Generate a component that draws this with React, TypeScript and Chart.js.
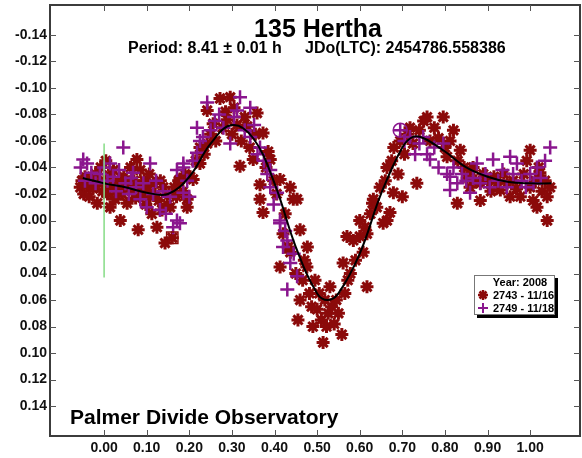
import React, { useEffect, useRef } from "react";
import { Chart, registerables } from "chart.js";

Chart.register(...registerables);

// ---- Data (phase, magnitude) ----
const redPhase = [
  -0.056, -0.052, -0.048, -0.045, -0.04, -0.035, -0.03, -0.026, -0.02, -0.016, -0.012, -0.008, -0.004, 0.0, 0.004, 0.008,
  0.012, 0.014, 0.018, 0.022, 0.026, 0.03, 0.034, 0.038, 0.042, 0.046, 0.05, 0.054, 0.058, 0.062, 0.066, 0.07, 0.074,
  0.077, 0.08, 0.083, 0.085, 0.09, 0.094, 0.098, 0.102, 0.106, 0.108, 0.112, 0.116, 0.12, 0.124, 0.128, 0.132, 0.136,
  0.139, 0.143, 0.148, 0.152, 0.155, 0.16, 0.165, 0.17, 0.175, 0.178, 0.185, 0.19, 0.195, 0.195, 0.202, 0.209, 0.215,
  0.225, 0.225, 0.235, 0.242, 0.242, 0.25, 0.256, 0.262, 0.272, 0.278, 0.285, 0.289, 0.296, 0.3, 0.305, 0.312, 0.319,
  0.322, 0.33, 0.336, 0.342, 0.35, 0.355, 0.359, 0.366, 0.366, 0.373, 0.373, 0.38, 0.385, 0.39, 0.398, 0.405, 0.413,
  0.413, 0.42, 0.425, 0.432, 0.437, 0.437, 0.444, 0.45, 0.453, 0.455, 0.46, 0.46, 0.466, 0.47, 0.476, 0.477, 0.482,
  0.487, 0.49, 0.495, 0.5, 0.505, 0.51, 0.514, 0.518, 0.522, 0.526, 0.53, 0.534, 0.54, 0.545, 0.55, 0.558, 0.561, 0.565,
  0.57, 0.572, 0.578, 0.585, 0.59, 0.6, 0.6, 0.608, 0.612, 0.617, 0.617, 0.625, 0.63, 0.632, 0.64, 0.648, 0.655, 0.66,
  0.664, 0.664, 0.671, 0.675, 0.679, 0.68, 0.69, 0.695, 0.7, 0.705, 0.712, 0.718, 0.725, 0.734, 0.74, 0.75, 0.758,
  0.765, 0.775, 0.785, 0.796, 0.8, 0.805, 0.812, 0.82, 0.829, 0.83, 0.836, 0.845, 0.852, 0.859, 0.859, 0.866, 0.872,
  0.883, 0.883, 0.89, 0.9, 0.908, 0.915, 0.922, 0.93, 0.938, 0.946, 0.953, 0.96, 0.968, 0.977, 0.985, 0.992, 1.0, 1.0,
  1.007, 1.012, 1.016, 1.02, 1.023, 1.028, 1.035, 1.04, 1.04, 1.047,
];
const redMag = [
  -0.025, -0.03, -0.02, -0.033, -0.026, -0.018, -0.031, -0.024, -0.035, -0.013, -0.028, -0.04, -0.022, -0.03, -0.045,
  -0.02, -0.034, -0.01, -0.026, -0.038, -0.016, -0.023, -0.03, 0.0, -0.02, -0.033, -0.026, -0.013, -0.028, -0.04,
  -0.022, -0.03, -0.017, -0.046, 0.007, -0.025, -0.038, -0.02, -0.03, -0.012, -0.025, -0.035, -0.018, -0.005, -0.028,
  -0.02, 0.005, -0.015, -0.03, -0.008, -0.025, 0.017, -0.012, -0.02, -0.01, 0.013, -0.025, -0.018, -0.03, -0.031,
  -0.022, -0.035, -0.016, -0.01, -0.033, -0.031, -0.045, -0.043, -0.055, -0.05, -0.058, -0.083, -0.065, -0.073, -0.06,
  -0.092, -0.07, -0.082, -0.076, -0.093, -0.065, -0.085, -0.072, -0.041, -0.06, -0.078, -0.071, -0.055, -0.046, -0.065,
  -0.081, -0.016, -0.027, -0.066, -0.006, -0.04, -0.052, -0.046, -0.03, -0.02, -0.031, 0.035, 0.01, -0.005, 0.02,
  -0.025, 0.024, -0.016, 0.04, -0.016, 0.075, 0.007, 0.06, 0.045, 0.03, 0.035, 0.02, 0.055, 0.065, 0.08, 0.045, 0.067,
  0.055, 0.075, 0.092, 0.06, 0.08, 0.07, 0.05, 0.065, 0.078, 0.06, 0.07, 0.086, 0.032, 0.055, 0.012, 0.045, 0.04,
  0.015, 0.03, 0.012, 0.0, 0.024, 0.005, 0.05, 0.01, -0.005, -0.013, -0.016, -0.01, -0.025, 0.002, -0.03, 0.0, -0.04,
  -0.006, -0.045, -0.021, -0.055, -0.035, -0.06, -0.018, -0.05, -0.065, -0.07, -0.058, -0.028, -0.068, -0.075, -0.078,
  -0.06, -0.07, -0.062, -0.078, -0.055, -0.048, -0.06, -0.068, -0.013, -0.045, -0.053, -0.04, -0.032, -0.038, -0.025,
  -0.04, -0.03, -0.028, -0.015, -0.035, -0.03, -0.022, -0.033, -0.028, -0.023, -0.035, -0.028, -0.018, -0.03, -0.024,
  -0.018, -0.035, -0.045, -0.025, -0.053, -0.015, -0.03, -0.01, -0.04, -0.036, -0.022, -0.03, 0.0, -0.018, -0.025,
];

const purplePhase = [
  -0.055, -0.049, -0.045, -0.04, -0.03, -0.02, -0.01, 0.0, 0.008, 0.014, 0.021, 0.028, 0.035, 0.045, 0.05, 0.058, 0.063,
  0.068, 0.075, 0.085, 0.092, 0.1, 0.108, 0.115, 0.122, 0.131, 0.138, 0.145, 0.155, 0.162, 0.171, 0.171, 0.178, 0.186,
  0.186, 0.186, 0.195, 0.2, 0.208, 0.218, 0.218, 0.225, 0.232, 0.242, 0.25, 0.26, 0.27, 0.28, 0.296, 0.305, 0.312,
  0.319, 0.33, 0.343, 0.343, 0.352, 0.36, 0.366, 0.375, 0.383, 0.39, 0.39, 0.398, 0.406, 0.413, 0.413, 0.42, 0.425,
  0.43, 0.43, 0.437, 0.445, 0.453, 0.695, 0.705, 0.718, 0.73, 0.74, 0.749, 0.758, 0.765, 0.775, 0.785, 0.796, 0.805,
  0.812, 0.812, 0.82, 0.829, 0.84, 0.85, 0.859, 0.866, 0.875, 0.883, 0.895, 0.905, 0.913, 0.925, 0.935, 0.945, 0.953,
  0.96, 0.969, 0.98, 0.99, 1.0, 1.008, 1.016, 1.025, 1.035, 1.047,
];
const purpleMag = [
  -0.04, -0.046, -0.03, -0.043, -0.036, -0.028, -0.035, -0.04, -0.03, -0.043, -0.033, -0.022, -0.038, -0.055, -0.028,
  -0.02, -0.032, -0.036, -0.025, -0.016, -0.028, -0.01, -0.043, -0.02, -0.03, -0.008, -0.022, -0.005, -0.018, 0.005,
  0.0, -0.038, 0.002, -0.04, -0.021, -0.043, -0.03, -0.018, -0.045, -0.051, -0.07, -0.06, -0.063, -0.089, -0.068,
  -0.075, -0.08, -0.07, -0.058, -0.078, -0.083, -0.093, -0.068, -0.085, -0.063, -0.072, -0.05, -0.055, -0.045, -0.035,
  -0.038, -0.025, -0.012, -0.021, 0.0, 0.002, 0.02, 0.008, 0.015, 0.052, 0.032, 0.025, 0.042, -0.068, -0.06, -0.063,
  -0.05, -0.058, -0.063, -0.05, -0.046, -0.055, -0.04, -0.058, -0.035, -0.033, -0.023, -0.04, -0.028, -0.035, -0.03,
  -0.021, -0.032, -0.043, -0.028, -0.035, -0.025, -0.046, -0.03, -0.038, -0.025, -0.048, -0.035, -0.043, -0.03, -0.025,
  -0.035, -0.028, -0.04, -0.032, -0.045, -0.055,
];

const curvePhase = [
  -0.05, 0.0, 0.05, 0.1, 0.15, 0.2, 0.25, 0.3, 0.35, 0.4, 0.45, 0.5, 0.525, 0.55, 0.6, 0.65, 0.7, 0.725, 0.75, 0.8, 0.85,
  0.9, 0.95, 1.0, 1.05,
];
const curveMag = [
  -0.032, -0.028, -0.025, -0.021, -0.02, -0.033, -0.058, -0.072, -0.062, -0.028, 0.02, 0.055, 0.06, 0.055, 0.025, -0.02,
  -0.055, -0.063, -0.062, -0.052, -0.04, -0.033, -0.029, -0.028, -0.028,
];

const zeroLinePhase = [0, 0];
const zeroLineMag = [-0.058, 0.043];

const boxedPoint = [{ x: 0.16, y: 0.013 }];
const circledPoint = [{ x: 0.695, y: -0.068 }];

const xTickValues = [0.0, 0.1, 0.2, 0.3, 0.4, 0.5, 0.6, 0.7, 0.8, 0.9, 1.0];
const yTickValues = [-0.14, -0.12, -0.1, -0.08, -0.06, -0.04, -0.02, 0.0, 0.02, 0.04, 0.06, 0.08, 0.1, 0.12, 0.14];

const titleText = "135 Hertha";
const subtitleLeft = "Period: 8.41 ± 0.01 h";
const subtitleRight = "JDo(LTC): 2454786.558386";
const footerText = "Palmer Divide Observatory";
const legendTitle = "Year: 2008";
const redLabel = "2743 - 11/16";
const purpleLabel = "2749 - 11/18";

const RED = "#8B0A0A";
const PURPLE = "#8A168E";
const FONT = "'Liberation Sans', Arial, sans-serif";

const pair = (xs: number[], ys: number[]) => xs.map((x, i) => ({ x, y: ys[i] }));
const fmt = (v: number) => (Math.abs(v) < 1e-9 ? 0 : v).toFixed(2);

const decorPlugin = {
  id: "decor",
  afterDatasetsDraw(chart: any) {
    const { ctx, chartArea, scales } = chart;
    const { left, right, top, bottom } = chartArea;
    ctx.save();
    // frame
    ctx.strokeStyle = "#3c3c3c";
    ctx.lineWidth = 2;
    ctx.strokeRect(left, top, right - left, bottom - top);
    // inner ticks
    ctx.lineWidth = 1;
    ctx.strokeStyle = "#555";
    const tl = 6;
    yTickValues.forEach((v) => {
      const y = Math.round(scales.y.getPixelForValue(v)) + 0.5;
      ctx.beginPath();
      ctx.moveTo(left, y);
      ctx.lineTo(left + tl, y);
      ctx.moveTo(right - tl, y);
      ctx.lineTo(right, y);
      ctx.stroke();
    });
    xTickValues.forEach((v) => {
      const x = Math.round(scales.x.getPixelForValue(v)) + 0.5;
      ctx.beginPath();
      ctx.moveTo(x, bottom);
      ctx.lineTo(x, bottom - tl);
      ctx.moveTo(x, top);
      ctx.lineTo(x, top + tl);
      ctx.stroke();
    });
    // titles
    ctx.fillStyle = "#000";
    ctx.textBaseline = "alphabetic";
    ctx.textAlign = "center";
    ctx.font = `bold 25px ${FONT}`;
    ctx.fillText(titleText, 318, 37);
    ctx.font = `bold 16px ${FONT}`;
    ctx.textAlign = "left";
    ctx.fillText(subtitleLeft, 128, 53);
    ctx.fillText(subtitleRight, 305, 53);
    ctx.font = `bold 21px ${FONT}`;
    ctx.fillText(footerText, 70, 424);
    // legend box
    const bx = 474, by = 275, bw = 81, bh = 40;
    ctx.fillStyle = "#000";
    ctx.fillRect(bx + 3, by + 3, bw, bh);
    ctx.fillStyle = "#fff";
    ctx.fillRect(bx, by, bw, bh);
    ctx.strokeStyle = "#777";
    ctx.lineWidth = 1;
    ctx.strokeRect(bx + 0.5, by + 0.5, bw - 1, bh - 1);
    ctx.fillStyle = "#000";
    ctx.font = `bold 11px ${FONT}`;
    ctx.textAlign = "center";
    ctx.fillText(legendTitle, 520, 286);
    ctx.textAlign = "left";
    ctx.fillText(redLabel, 493, 299);
    ctx.fillText(purpleLabel, 493, 312);
    // legend markers
    const mx = 483;
    ctx.strokeStyle = RED;
    ctx.lineWidth = 2.5;
    const r = 5;
    ctx.beginPath();
    ctx.moveTo(mx - r, 295);
    ctx.lineTo(mx + r, 295);
    ctx.moveTo(mx, 295 - r);
    ctx.lineTo(mx, 295 + r);
    ctx.moveTo(mx - r * 0.7, 295 - r * 0.7);
    ctx.lineTo(mx + r * 0.7, 295 + r * 0.7);
    ctx.moveTo(mx - r * 0.7, 295 + r * 0.7);
    ctx.lineTo(mx + r * 0.7, 295 - r * 0.7);
    ctx.stroke();
    ctx.strokeStyle = PURPLE;
    ctx.lineWidth = 2;
    ctx.beginPath();
    ctx.moveTo(mx - 5, 308);
    ctx.lineTo(mx + 5, 308);
    ctx.moveTo(mx, 303);
    ctx.lineTo(mx, 313);
    ctx.stroke();
    ctx.restore();
  },
};

export default function App() {
  const ref = useRef<HTMLCanvasElement | null>(null);
  useEffect(() => {
    document.body.style.margin = "0";
    const canvas = ref.current;
    if (!canvas) return;
    const chart = new Chart(canvas, {
      type: "scatter",
      data: {
        datasets: [
          {
            label: "fit",
            type: "line",
            data: pair(curvePhase, curveMag),
            borderColor: "#000",
            borderWidth: 2,
            pointRadius: 0,
            tension: 0.4,
            fill: false,
            order: 1,
          } as any,
          {
            label: "zero",
            type: "line",
            data: pair(zeroLinePhase, zeroLineMag),
            borderColor: "#86dc86",
            borderWidth: 1.5,
            pointRadius: 0,
            fill: false,
            order: 0,
          } as any,
          {
            label: purpleLabel,
            data: pair(purplePhase, purpleMag),
            pointStyle: "cross",
            pointRadius: 7,
            pointBorderWidth: 2.5,
            borderColor: PURPLE,
            backgroundColor: PURPLE,
            order: 2,
          },
          {
            label: redLabel,
            data: pair(redPhase, redMag),
            pointStyle: "star",
            pointRadius: 6.5,
            pointBorderWidth: 3,
            borderColor: RED,
            backgroundColor: RED,
            order: 3,
          },
          {
            label: "box",
            data: boxedPoint,
            pointStyle: "rect",
            pointRadius: 8,
            pointBorderWidth: 1.5,
            borderColor: RED,
            backgroundColor: "rgba(0,0,0,0)",
            order: 0,
          },
          {
            label: "circ",
            data: circledPoint,
            pointStyle: "circle",
            pointRadius: 7,
            pointBorderWidth: 1.5,
            borderColor: PURPLE,
            backgroundColor: "rgba(0,0,0,0)",
            order: 0,
          },
        ],
      },
      options: {
        responsive: false,
        animation: false,
        layout: { autoPadding: false, padding: { left: 0, right: 2, top: 5, bottom: 0 } },
        plugins: { legend: { display: false }, tooltip: { enabled: false }, title: { display: false } },
        scales: {
          x: {
            type: "linear",
            min: -0.127,
            max: 1.117,
            grid: { display: false, drawTicks: false },
            border: { display: false },
            afterBuildTicks: (scale: any) => {
              scale.ticks = xTickValues.map((v) => ({ value: v }));
            },
            afterFit: (scale: any) => {
              scale.height = 22;
              scale.paddingLeft = 0;
              scale.paddingRight = 0;
            },
            ticks: {
              padding: 4,
              color: "#111",
              font: { family: FONT, size: 14, weight: "bold" },
              callback: (v: any) => fmt(Number(v)),
              maxRotation: 0,
              autoSkip: false,
            },
          },
          y: {
            type: "linear",
            reverse: true,
            min: -0.1625,
            max: 0.1625,
            grid: { display: false, drawTicks: false },
            border: { display: false },
            afterBuildTicks: (scale: any) => {
              scale.ticks = yTickValues.map((v) => ({ value: v }));
            },
            afterFit: (scale: any) => {
              scale.width = 50;
              scale.paddingTop = 0;
              scale.paddingBottom = 0;
            },
            ticks: {
              padding: 3,
              color: "#111",
              font: { family: FONT, size: 14, weight: "bold" },
              callback: (v: any) => fmt(Number(v)),
              autoSkip: false,
            },
          },
        },
      },
      plugins: [decorPlugin],
    });
    return () => chart.destroy();
  }, []);
  return (
    <div style={{ width: 582, height: 458, background: "#fff" }}>
      <canvas ref={ref} width={582} height={458} style={{ display: "block", width: 582, height: 458 }} />
    </div>
  );
}
